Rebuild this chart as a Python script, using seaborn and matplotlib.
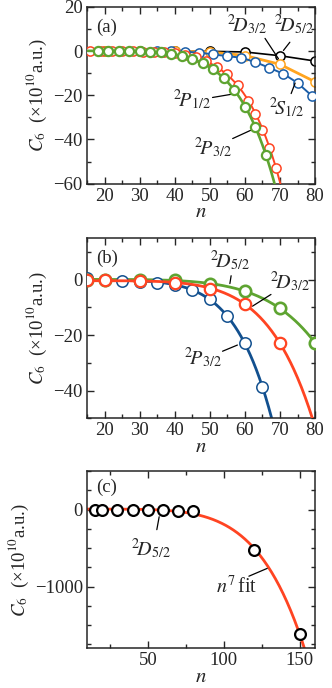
import numpy as np
import matplotlib
matplotlib.use("Agg")
import matplotlib.pyplot as plt
from matplotlib.ticker import MultipleLocator
import seaborn as sns

# ---- panel (a) data: C6 in units of 1e10 a.u. ----
n_s12 = [35, 39, 43, 47, 51, 55, 59, 63, 67, 71, 75, 79]
c_s12 = [0.0, -0.1, -0.3, -0.7, -1.5, -2.3, -3.0, -5.0, -7.6, -10.3, -14.4, -20.1]

n_d32a = [20, 30, 40, 50, 60, 70, 80]
c_d32a = [0.0, 0.0, -0.05, -0.4, -2.0, -6.0, -13.9]

n_d52a = [20, 30, 40, 50, 60, 70, 80]
c_d52a = [0.0, 0.0, 0.0, -0.1, -0.4, -2.1, -4.5]

n_p12 = [16, 19, 22, 25, 28, 31, 34, 37, 40, 43, 46, 49, 52, 55, 58, 61, 63, 65, 67, 69]
c_p12 = [0.0, 0.0, 0.0, 0.0, -0.1, -0.2, -0.3, -0.6, -1.0, -1.8, -2.9, -4.6, -7.0, -10.5,
         -15.5, -22.5, -28.5, -35.5, -44.0, -53.0]

n_p32a = [18, 21, 24, 27, 30, 33, 36, 39, 42, 45, 48, 51, 54, 57, 60, 63, 66]
c_p32a = [0.0, 0.0, -0.05, -0.1, -0.15, -0.3, -0.6, -1.2, -2.3, -3.8, -5.3, -8.0, -12.4,
          -17.7, -25.3, -34.3, -47.0]

# ---- panel (b) data ----
n_p32b = [15, 20, 25, 30, 35, 40, 45, 50, 55, 60, 65]
c_p32b = [0.5, 0.0, -0.5, -0.7, -1.2, -2.0, -3.8, -7.1, -13.2, -23.0, -38.7]

n_d32b = [15, 20, 30, 40, 50, 60, 70]
c_d32b = [-0.3, -0.3, -0.4, -1.2, -3.2, -8.7, -23.0]

n_d52b = [15, 20, 30, 40, 50, 60, 70, 80]
c_d52b = [0.0, 0.0, 0.0, 0.0, -1.5, -4.2, -10.4, -22.8]

# ---- panel (c) data ----
n_d52c = [15, 20, 30, 40, 50, 60, 70, 80, 120, 150]
c_d52c = [0.0, 0.0, 0.0, 0.0, -1.5, -4.2, -10.4, -22.8, -519, -1623]

RED = "#ff4422"
GREEN = "#5ea431"
BLUE = "#1b5ea8"
DBLUE = "#12508f"
ORANGE = "#ffa41f"


def power_fit(n, c, grid):
    """least squares fit c = a + b*n^p, best p on a grid"""
    n = np.asarray(n, float)
    c = np.asarray(c, float)
    best = None
    for p in np.arange(2.0, 12.0, 0.05):
        A = np.column_stack([np.ones_like(n), (n / 100.0) ** p])
        coef = np.linalg.lstsq(A, c, rcond=None)[0]
        err = np.sum((A @ coef - c) ** 2)
        if best is None or err < best[0]:
            best = (err, p, coef)
    _, p, coef = best
    return coef[0] + coef[1] * (grid / 100.0) ** p


sns.set_theme(style="ticks")
plt.rcParams["font.family"] = ["Liberation Serif", "DejaVu Serif"]
plt.rcParams["mathtext.fontset"] = "stix"
plt.rcParams["axes.linewidth"] = 1.1

fig = plt.figure(figsize=(3.32, 6.88), dpi=100)
ax_a = fig.add_axes([0.262, 0.733, 0.687, 0.257])
ax_b = fig.add_axes([0.262, 0.392, 0.687, 0.262])
ax_c = fig.add_axes([0.262, 0.058, 0.687, 0.257])


def open_line(ax, n, c, color, lw=1.6, ms=6.6, mew=1.1, z=2):
    sns.lineplot(x=n, y=c, ax=ax, color=color, lw=lw, marker="o", markerfacecolor="white",
                 markeredgecolor=color, markersize=ms, markeredgewidth=mew, zorder=z,
                 sort=False, estimator=None)


def open_pts(ax, n, c, color, ms=7.5, mew=1.6, z=3):
    sns.lineplot(x=n, y=c, ax=ax, color=color, lw=0, marker="o", markerfacecolor="white",
                 markeredgecolor=color, markersize=ms, markeredgewidth=mew, zorder=z,
                 sort=False, estimator=None)


def fit_line(ax, n, c, color, lo, hi, lw=2.0, z=2):
    grid = np.linspace(lo, hi, 300)
    sns.lineplot(x=grid, y=power_fit(n, c, grid), ax=ax, color=color, lw=lw, zorder=z,
                 sort=False, estimator=None)


def lab(ax, txt, xy, xytext, lxy, fs=14.5):
    ax.text(xytext[0], xytext[1], txt, fontsize=fs, ha="center", va="center")
    ax.annotate("", xy=xy, xytext=lxy,
                arrowprops=dict(arrowstyle="-", color="black", lw=0.9))


# ---- (a) ----
open_line(ax_a, n_d52a, c_d52a, "black", lw=1.2, z=1.5)
open_line(ax_a, n_d32a, c_d32a, ORANGE, lw=2.0, z=2)
open_line(ax_a, n_s12, c_s12, BLUE, lw=1.4, z=3)
fit_line(ax_a, n_p12, c_p12, RED, 15, 75, lw=1.4, z=5)
open_pts(ax_a, n_p12, c_p12, RED, ms=6.6, mew=1.1, z=5)
fit_line(ax_a, n_p32a, c_p32a, GREEN, 15, 75, lw=1.9, z=6)
open_pts(ax_a, n_p32a, c_p32a, GREEN, ms=6.6, mew=1.6, z=6)

ax_a.set_xlim(15, 80)
ax_a.set_ylim(-60, 20)
ax_a.xaxis.set_major_locator(MultipleLocator(10))
ax_a.xaxis.set_minor_locator(MultipleLocator(5))
ax_a.yaxis.set_major_locator(MultipleLocator(20))
ax_a.yaxis.set_minor_locator(MultipleLocator(10))
ax_a.text(20.6, 10.6, "(a)", fontsize=13.5, ha="center", va="center")
lab(ax_a, r"$^{2}\!D_{3/2}$", (70, -4.5), (60.6, 12.1), (65.3, 6.8))
lab(ax_a, r"$^{2}\!D_{5/2}$", (70.5, -0.7), (74.0, 12.1), (73.3, 5.0))
lab(ax_a, r"$^{2}\!S_{1/2}$", (74.6, -13.3), (72.0, -25.5), (72.9, -20.4))
lab(ax_a, r"$^{2}\!P_{1/2}$", (56.7, -19.4), (44.8, -22.0), (50.0, -21.2))
lab(ax_a, r"$^{2}\!P_{3/2}$", (62.4, -35.3), (50.8, -43.5), (55.8, -40.1))

# ---- (b) ----
fit_line(ax_b, n_p32b, c_p32b, DBLUE, 15, 80, lw=2.0, z=2)
open_pts(ax_b, n_p32b, c_p32b, DBLUE, ms=8.2, mew=1.1, z=3)
fit_line(ax_b, n_d52b, c_d52b, GREEN, 15, 80, lw=2.0, z=2)
open_pts(ax_b, n_d52b, c_d52b, GREEN, ms=8.2, mew=1.9, z=3)
fit_line(ax_b, n_d32b, c_d32b, RED, 15, 80, lw=2.0, z=4)
open_pts(ax_b, n_d32b, c_d32b, RED, ms=8.2, mew=1.6, z=5)

ax_b.set_xlim(15, 80)
ax_b.set_ylim(-50, 15)
ax_b.xaxis.set_major_locator(MultipleLocator(10))
ax_b.xaxis.set_minor_locator(MultipleLocator(5))
ax_b.yaxis.set_major_locator(MultipleLocator(20))
ax_b.yaxis.set_minor_locator(MultipleLocator(10))
ax_b.text(20.6, 7.7, "(b)", fontsize=13.5, ha="center", va="center")
lab(ax_b, r"$^{2}\!D_{5/2}$", (55.6, -2.4), (55.7, 7.0), (56.2, 2.4))
lab(ax_b, r"$^{2}\!D_{3/2}$", (61.5, -10.1), (73.0, -0.6), (68.1, -4.8))
lab(ax_b, r"$^{2}\!P_{3/2}$", (58.6, -23.2), (48.0, -28.0), (52.9, -26.2))

# ---- (c) ----
fit_line(ax_c, n_d52c, c_d52c, RED, 10, 160, lw=2.0, z=2)
open_pts(ax_c, n_d52c, c_d52c, "black", ms=7.8, mew=1.6, z=3)

ax_c.set_xlim(10, 160)
ax_c.set_ylim(-1800, 500)
ax_c.xaxis.set_major_locator(MultipleLocator(50))
ax_c.xaxis.set_minor_locator(MultipleLocator(25))
ax_c.yaxis.set_major_locator(MultipleLocator(1000))
ax_c.yaxis.set_minor_locator(MultipleLocator(250))
ax_c.text(22.7, 290, "(c)", fontsize=13.5, ha="center", va="center")
lab(ax_c, r"$^{2}\!D_{5/2}$", (57.8, -56), (52.3, -500), (55.6, -295))
lab(ax_c, r"$n^{7}\,$fit", (130.2, -749), (108.5, -1009), (114.8, -879))

for ax in (ax_a, ax_b, ax_c):
    ax.tick_params(which="both", direction="in", top=True, right=True, labelsize=13.5,
                   width=1.0, pad=3)
    ax.tick_params(which="major", length=5)
    ax.tick_params(which="minor", length=3)
    ax.set_xlabel(r"$n$", fontsize=15, labelpad=-1)
    ax.set_ylabel(r"$C_6$  (×10$^{10}$a.u.)", fontsize=13.5, labelpad=3)
    for sp in ax.spines.values():
        sp.set_linewidth(1.1)

fig.savefig("out.png", dpi=100)
